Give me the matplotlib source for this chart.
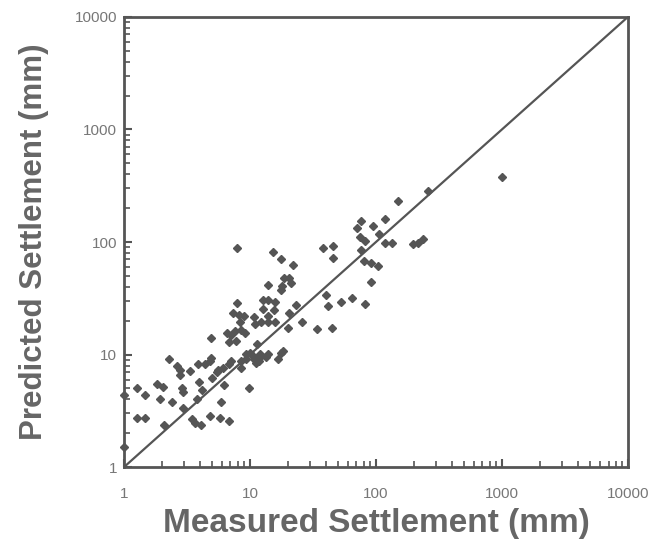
import numpy as np
import matplotlib.pyplot as plt

# measured vs predicted settlement (mm)
measured = [1000, 260, 150, 118, 76, 70.6, 95, 74.5, 82.5, 106, 118, 134, 76, 80.6, 90.7, 104,
            90.7, 82.5, 195, 215, 238, 38.3, 45.9, 45.9, 40, 41.4, 65, 52.4, 34, 44.8,
            25.9, 23, 20.4, 20, 21.8, 17.8, 15.3, 18.5, 20.4, 21.3, 18, 17.5, 14, 12.6,
            13.8, 15.9, 15.6, 12.8, 13.8, 15.9, 14, 12.3, 10.7, 10.9,
            7.86, 7.38, 8.17, 8.98, 8.3, 6.56, 7.1, 7.68, 8.5, 6.82, 7.7, 9.2, 7.85,
            9.33, 10.1, 10.5, 12, 9.3, 10.7, 11.8, 11.4, 8.5, 8.5, 9.9, 13.3, 11.8, 11.2,
            16.8, 17.5, 18.2, 14,
            4.91, 7.1, 6.8, 6.07, 5.6, 4.91, 4.8, 4.43, 3.88, 3.32, 2.77, 2.66, 2.77, 2.28,
            2.88, 2.92, 3.95, 4.2, 3.79, 4.99, 5.5, 6.2,
            1.26, 1.48, 1.83, 2.03, 1.95, 2.42, 1.26, 1.48, 2.1, 2.95, 3.45, 3.65, 4.1,
            4.8, 5.84, 5.93, 6.82, 1.0, 1.0]
predicted = [380, 285, 230, 160, 155, 133, 139, 111, 102, 117, 98, 97, 85.5, 68, 64.5, 61.5,
             44, 27.9, 96, 98, 107, 88.5, 93, 72.7, 34, 26.9, 31.6, 29.5, 17, 17.4,
             19.4, 27.3, 23.4, 17.4, 62, 70.7, 81.3, 47.7, 47.7, 43, 41, 37.7, 41.5, 30.5,
             30.4, 29.3, 25, 25.4, 21.8, 19.4, 19.4, 19.4, 21.5, 18.7,
             28.8, 23.4, 22.6, 21.8, 19.6, 15.4, 14.8, 16.2, 16.5, 12.9, 13.3, 15.6, 88,
             10.1, 10.4, 9.75, 10.1, 9.1, 9.1, 9.4, 12.4, 8.8, 7.6, 5.0, 9.5, 8.8, 8.5,
             9.2, 10.4, 10.8, 10.1,
             14, 8.8, 8.2, 7.6, 7.36, 9.4, 8.8, 8.3, 8.3, 7.1, 7.36, 7.9, 6.6, 9.1,
             5.0, 4.7, 5.76, 4.84, 4.06, 6.18, 7.0, 5.37,
             5.0, 4.35, 5.45, 5.2, 4.0, 3.78, 2.76, 2.76, 2.37, 3.34, 2.67, 2.45, 2.35,
             2.86, 2.76, 3.79, 2.58, 4.35, 1.52]

line_xy = [1, 10000]

grey = '#555555'
plt.rcParams['font.family'] = ['Liberation Sans', 'DejaVu Sans']

fig = plt.figure(figsize=(6.66, 5.42), dpi=100)
ax = fig.add_axes([0.186, 0.138, 0.757, 0.831])

ax.plot(line_xy, line_xy, color=grey, lw=1.6, zorder=2)
ax.plot(measured, predicted, 'D', color=grey, ms=4, mec=grey, zorder=3, clip_on=False)

ax.set_xscale('log')
ax.set_yscale('log')
ax.set_xlim(1, 10000)
ax.set_ylim(1, 10000)
ax.set_xticks([1, 10, 100, 1000, 10000])
ax.set_yticks([1, 10, 100, 1000, 10000])
ax.set_xticklabels(['1', '10', '100', '1000', '10000'])
ax.set_yticklabels(['1', '10', '100', '1000', '10000'])

ax.tick_params(which='both', direction='in', colors=grey, labelcolor='#777777',
               top=False, right=False, labelsize=11)
ax.tick_params(which='major', length=6, width=1.5)
ax.tick_params(which='minor', length=4, width=1.2)
ax.tick_params(axis='x', pad=14)
ax.tick_params(axis='y', pad=5)

for s in ax.spines.values():
    s.set_color(grey)
    s.set_linewidth(2)

ax.set_xlabel('Measured Settlement (mm)', fontsize=24, fontweight='bold', color='#666666', labelpad=5)
ax.set_ylabel('Predicted Settlement (mm)', fontsize=22.5, fontweight='bold', color='#666666', labelpad=18)

fig.savefig('out.png', dpi=100)
